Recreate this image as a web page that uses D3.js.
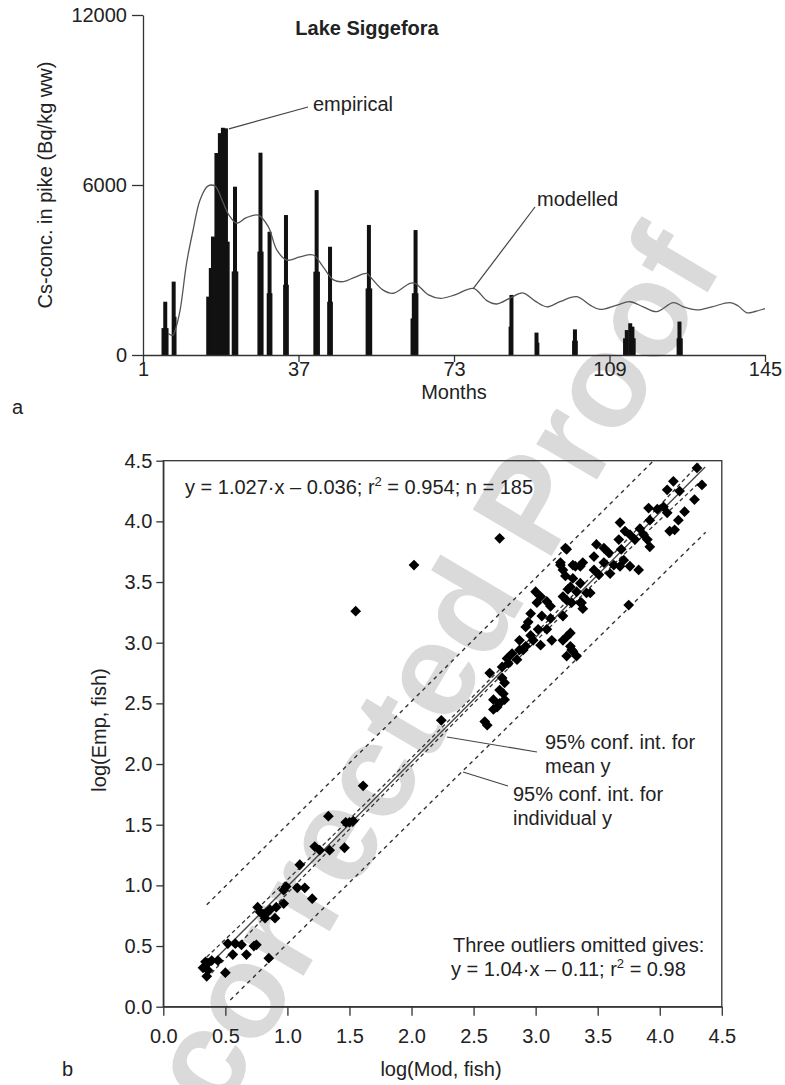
<!DOCTYPE html>
<html>
<head>
<meta charset="utf-8">
<script src="https://cdn.jsdelivr.net/npm/d3@7"></script>
<style>
body { margin: 0; background: #fff; }
svg { font-family: "Liberation Sans", Arial, Helvetica, sans-serif; }
.axis path, .axis line { stroke: #333; stroke-width: 1.3; }
.axis text { font-size: 20px; fill: #222; font-family: "Liberation Sans", Arial, sans-serif; }
</style>
</head>
<body>
<svg id="fig" width="785" height="1085"></svg>
<script>
// ---- panel a : Lake Siggefora, Cs in pike
// empirical samples (month, Bq/kg ww); several samples per sampling occasion
var empMonths = [6.15, 5.75, 6.45, 8.1, 8.3, 16.1, 16.7, 17.2, 18.0, 18.8, 19.5, 20.2, 20.6,
    22.3, 22.0, 22.6, 28.2, 27.95, 28.45, 30.3, 30.1, 30.5, 34.1, 33.9, 34.3, 41.2, 40.9, 41.5,
    44.3, 44.1, 44.5, 53.3, 53.0, 53.6, 64.1, 63.7, 64.3, 63.4, 86.3, 86.1, 92.1, 92.3,
    101.0, 100.8, 101.2, 112.6, 113.0, 113.8, 114.3, 114.6, 125.2, 125.0, 125.5];
var empValues = [1880, 950, 950, 2590, 1350, 2060, 3070, 4180, 7130, 7830, 8020, 8000, 4000,
    5940, 2950, 2950, 7140, 3650, 3650, 4350, 2180, 2180, 4940, 2480, 2480, 5820, 2940, 2940,
    3820, 1880, 1880, 4590, 2350, 2350, 4410, 2180, 2180, 1290, 2120, 1000, 790, 435,
    905, 505, 505, 590, 880, 1120, 1000, 590, 1180, 590, 590];
// modelled curve
var modMonths = [6.8, 7.9, 8.6, 9.6, 11.1, 12.6, 14.2, 16.0, 17.7, 19.3, 20.9, 22.7, 24.8, 27.7,
    30.0, 32.0, 34.3, 37.3, 40.4, 42.7, 45.1, 47.4, 50.1, 52.8, 53.9, 56.6, 58.9, 62.8, 64.0,
    67.1, 69.8, 73.2, 77.5, 80.6, 82.9, 86.2, 88.9, 91.8, 94.5, 97.5, 101.4, 104.5, 106.8,
    110.7, 113.7, 116.8, 119.9, 123.8, 126.1, 129.2, 132.7, 136.9, 138.8, 140.8, 142.7, 145];
var modValues = [760, 700, 950, 1590, 3250, 4410, 5470, 5960, 5960, 5470, 4940, 4650, 4840, 4940,
    4530, 3700, 3350, 3460, 3530, 3110, 2650, 2590, 2750, 2880, 2710, 2290, 2180, 2530, 2530,
    2120, 2000, 2120, 2350, 1920, 1800, 2030, 2190, 1900, 1700, 1880, 2060, 1760, 1610,
    1760, 1880, 1700, 1530, 1850, 1700, 1590, 1700, 1850, 1730, 1490, 1535, 1640];
var monthTicks = [1, 37, 73, 109, 145];
var concTicks = [0, 6000, 12000];

// ---- panel b : log(Mod) vs log(Emp)
var logMod = [1.61, 1.33, 1.47, 1.50, 1.53, 1.22, 1.26, 1.34, 1.46, 1.10, 0.99, 0.97, 1.08, 1.14,
    1.20, 0.97, 0.91, 0.76, 0.78, 0.81, 0.83, 0.86, 0.82, 0.90, 0.52, 0.58, 0.63, 0.56, 0.67,
    0.73, 0.75, 0.85, 0.34, 0.36, 0.39, 0.44, 0.32, 0.35, 0.50, 0.36,
    1.55, 2.02, 2.71, 2.24,
    2.59, 2.61, 2.66, 2.69, 2.71, 2.74, 2.75, 2.73, 2.63, 2.73, 2.78, 2.81, 2.77, 2.85, 2.87,
    2.92, 2.92, 2.94, 2.96, 3.00, 3.04, 3.01, 3.09, 3.12, 3.05, 3.12, 3.02, 3.09, 3.13, 3.04,
    2.98, 3.20, 3.24, 3.26, 3.29, 3.22, 3.33, 3.36, 3.38, 3.41, 3.30, 3.36, 3.47, 3.25, 3.29,
    3.33, 3.25, 3.75, 2.96, 2.87, 2.66, 2.71, 2.75, 2.90, 3.24, 3.28, 3.30, 3.22,
    4.30, 4.34, 4.28, 4.11, 4.06, 4.16, 4.20, 4.15, 4.08, 4.12, 3.91, 3.98, 4.03, 4.06, 3.92,
    3.84, 3.87, 3.90, 3.92, 3.68, 3.72, 3.76, 3.80, 3.67, 3.49, 3.55, 3.59, 3.69, 3.71, 3.25,
    3.47, 3.32, 3.38, 3.55, 3.63, 3.60, 3.68, 3.76, 3.83, 3.51, 3.20, 3.22, 3.30, 3.28, 3.36,
    3.44, 3.25, 3.37, 3.28, 3.22];
var logEmp = [1.82, 1.57, 1.52, 1.52, 1.53, 1.32, 1.29, 1.29, 1.31, 1.17, 0.99, 0.96, 0.98, 0.98,
    0.89, 0.85, 0.82, 0.82, 0.78, 0.76, 0.77, 0.80, 0.73, 0.73, 0.52, 0.52, 0.51, 0.43, 0.43,
    0.50, 0.51, 0.40, 0.37, 0.36, 0.38, 0.38, 0.32, 0.25, 0.28, 0.30,
    3.26, 3.64, 3.86, 2.36,
    2.35, 2.32, 2.45, 2.47, 2.50, 2.58, 2.53, 2.71, 2.75, 2.80, 2.83, 2.91, 2.87, 2.86, 2.94,
    2.97, 3.13, 3.17, 3.24, 3.42, 3.38, 3.33, 3.34, 3.30, 3.22, 3.20, 3.11, 3.11, 3.02, 2.98,
    3.02, 3.64, 3.55, 3.44, 3.33, 3.38, 3.42, 3.33, 3.28, 3.41, 3.64, 3.63, 3.60, 3.05, 2.94,
    2.89, 2.89, 3.31, 3.06, 3.02, 2.53, 2.61, 2.67, 2.94, 3.78, 2.97, 2.93, 3.02,
    4.44, 4.30, 4.18, 4.33, 4.26, 4.25, 4.08, 4.01, 3.92, 3.93, 4.11, 4.10, 4.12, 4.07, 4.01,
    3.94, 3.89, 3.85, 3.79, 3.99, 3.92, 3.89, 3.85, 3.85, 3.81, 3.78, 3.74, 3.77, 3.68, 3.77,
    3.71, 3.63, 3.66, 3.66, 3.64, 3.57, 3.63, 3.63, 3.60, 3.56, 3.66, 3.60, 3.53, 3.46, 3.49,
    3.41, 3.35, 3.33, 3.08, 3.22];
var logTicks = [0, 0.5, 1, 1.5, 2, 2.5, 3, 3.5, 4, 4.5];
// fitted line and confidence bands
var regX = [0.376, 4.366], regY = [0.35, 4.448];
var ciMeanX = [0.35, 1.2, 2.4, 3.6, 4.33];
var ciMeanUp = [0.41, 1.245, 2.46, 3.705, 4.49];
var ciMeanLo = [0.235, 1.147, 2.398, 3.617, 4.33];
var ciIndUpX = [0.35, 2.2, 3.95], ciIndUpY = [0.84, 2.72, 4.5];
var ciIndLoX = [0.54, 2.4, 4.37], ciIndLoY = [0.055, 1.93, 3.91];

var svg = d3.select("#fig");

//watermark
svg.append("text")
    .attr("transform", "translate(387,744)rotate(-59.4)")
    .attr("text-anchor", "middle")
    .attr("dominant-baseline", "central")
    .attr("font-size", 133)
    .attr("font-weight", "bold")
    .attr("fill", "#dadada")
    .text("Uncorrected Proof");

// ================= panel a
var xa = d3.scaleLinear().domain([1, 145]).range([143, 765]);
var ya = d3.scaleLinear().domain([0, 12000]).range([355, 15]);

var ga = svg.append("g");

ga.selectAll("rect.emp")
    .data(d3.range(empMonths.length))
    .enter().append("rect")
    .attr("class", "emp")
    .attr("x", function(i) { return xa(empMonths[i]) - 2; })
    .attr("width", 4)
    .attr("y", function(i) { return ya(empValues[i]); })
    .attr("height", function(i) { return ya(0) - ya(empValues[i]); })
    .attr("fill", "#111");

var modLine = d3.line()
    .x(function(i) { return xa(modMonths[i]); })
    .y(function(i) { return ya(modValues[i]); })
    .curve(d3.curveCatmullRom);
ga.append("path")
    .attr("d", modLine(d3.range(modMonths.length)))
    .attr("fill", "none")
    .attr("stroke", "#555")
    .attr("stroke-width", 1.3);

ga.append("g").attr("class", "axis")
    .attr("transform", "translate(0," + ya(0) + ")")
    .call(d3.axisBottom(xa).tickValues(monthTicks).tickSize(7).tickSizeOuter(0).tickPadding(0)
        .tickFormat(d3.format("d")));
ga.append("g").attr("class", "axis")
    .attr("transform", "translate(" + xa(1) + ",0)")
    .call(d3.axisLeft(ya).tickValues(concTicks).tickSize(11).tickSizeOuter(0).tickPadding(5)
        .tickFormat(d3.format("d")));

ga.append("text").attr("x", 367).attr("y", 35).attr("text-anchor", "middle")
    .attr("font-size", 20).attr("font-weight", "bold").attr("fill", "#222").text("Lake Siggefora");
ga.append("text").attr("transform", "translate(52,185)rotate(-90)").attr("text-anchor", "middle")
    .attr("font-size", 20).attr("fill", "#222").text("Cs-conc. in pike (Bq/kg ww)");
ga.append("text").attr("x", 454).attr("y", 399).attr("text-anchor", "middle")
    .attr("font-size", 20).attr("fill", "#222").text("Months");
ga.append("text").attr("x", 12).attr("y", 414)
    .attr("font-size", 20).attr("fill", "#222").text("a");

// labels with leader lines
ga.append("line").attr("x1", xa(20.9)).attr("y1", ya(7980)).attr("x2", 308).attr("y2", 107)
    .attr("stroke", "#444").attr("stroke-width", 1.2);
ga.append("text").attr("x", 313).attr("y", 111).attr("font-size", 20).attr("fill", "#222").text("empirical");
ga.append("line").attr("x1", xa(77.4)).attr("y1", ya(2330)).attr("x2", 535).attr("y2", 207)
    .attr("stroke", "#444").attr("stroke-width", 1.2);
ga.append("text").attr("x", 537).attr("y", 206).attr("font-size", 20).attr("fill", "#222").text("modelled");

// ================= panel b
var xb = d3.scaleLinear().domain([0, 4.5]).range([163.3, 721.8]);
var yb = d3.scaleLinear().domain([0, 4.5]).range([1006.7, 460.7]);

var gb = svg.append("g");

gb.append("clipPath").attr("id", "clipb").append("rect")
    .attr("x", xb(0)).attr("y", yb(4.5)).attr("width", xb(4.5) - xb(0)).attr("height", yb(0) - yb(4.5));

var lines = gb.append("g").attr("clip-path", "url(#clipb)");
var pairLine = function pairLine(xs, ys) {
    return d3.line().x(function(i) { return xb(xs[i]); }).y(function(i) { return yb(ys[i]); })
        .curve(d3.curveNatural)(d3.range(xs.length));
};
lines.append("path").attr("d", pairLine(regX, regY))
    .attr("stroke", "#444").attr("stroke-width", 1.3).attr("fill", "none");
[ciMeanUp, ciMeanLo].forEach(function(ys) {
    lines.append("path").attr("d", pairLine(ciMeanX, ys))
        .attr("stroke", "#333").attr("stroke-width", 1.3).attr("fill", "none")
        .attr("stroke-dasharray", "4,3");
});
lines.append("path").attr("d", pairLine(ciIndUpX, ciIndUpY))
    .attr("stroke", "#333").attr("stroke-width", 1.4).attr("fill", "none").attr("stroke-dasharray", "4,4");
lines.append("path").attr("d", pairLine(ciIndLoX, ciIndLoY))
    .attr("stroke", "#333").attr("stroke-width", 1.4).attr("fill", "none").attr("stroke-dasharray", "4,4");

var diamond = d3.symbol().type(d3.symbolSquare).size(58);
gb.selectAll("path.pt")
    .data(d3.range(logMod.length))
    .enter().append("path")
    .attr("class", "pt")
    .attr("d", diamond)
    .attr("transform", function(i) { return "translate(" + xb(logMod[i]) + "," + yb(logEmp[i]) + ")rotate(45)"; })
    .attr("fill", "#000");

// frame
gb.append("rect").attr("x", xb(0)).attr("y", yb(4.5))
    .attr("width", xb(4.5) - xb(0)).attr("height", yb(0) - yb(4.5))
    .attr("fill", "none").attr("stroke", "#333").attr("stroke-width", 1.3);

gb.append("g").attr("class", "axis")
    .attr("transform", "translate(0," + yb(0) + ")")
    .call(d3.axisBottom(xb).tickValues(logTicks).tickSize(9).tickSizeOuter(0).tickPadding(13)
        .tickFormat(d3.format(".1f")));
gb.append("g").attr("class", "axis")
    .attr("transform", "translate(" + xb(0) + ",0)")
    .call(d3.axisLeft(yb).tickValues(logTicks).tickSize(7).tickSizeOuter(0).tickPadding(4)
        .tickFormat(d3.format(".1f")));

gb.append("text").attr("x", 441).attr("y", 1076).attr("text-anchor", "middle")
    .attr("font-size", 20).attr("fill", "#222").text("log(Mod, fish)");
gb.append("text").attr("transform", "translate(106,730)rotate(-90)").attr("text-anchor", "middle")
    .attr("font-size", 20).attr("fill", "#222").text("log(Emp, fish)");
gb.append("text").attr("x", 62).attr("y", 1076)
    .attr("font-size", 20).attr("fill", "#222").text("b");

var eq = gb.append("text").attr("x", 185).attr("y", 494).attr("font-size", 20).attr("fill", "#222");
eq.append("tspan").text("y = 1.027\u00b7x \u2013 0.036; r");
eq.append("tspan").attr("dy", -8).attr("font-size", 13).text("2");
eq.append("tspan").attr("dy", 8).text(" = 0.954; n = 185");

gb.append("text").attr("x", 453).attr("y", 952).attr("font-size", 20).attr("fill", "#222")
    .text("Three outliers omitted gives:");
var eq2 = gb.append("text").attr("x", 451).attr("y", 976).attr("font-size", 20).attr("fill", "#222");
eq2.append("tspan").text("y = 1.04\u00b7x \u2013 0.11; r");
eq2.append("tspan").attr("dy", -8).attr("font-size", 13).text("2");
eq2.append("tspan").attr("dy", 8).text(" = 0.98");

gb.append("line").attr("x1", 447).attr("y1", 737).attr("x2", 537).attr("y2", 752)
    .attr("stroke", "#444").attr("stroke-width", 1.2);
gb.append("text").attr("x", 545).attr("y", 749).attr("font-size", 20).attr("fill", "#222").text("95% conf. int. for");
gb.append("text").attr("x", 545).attr("y", 773).attr("font-size", 20).attr("fill", "#222").text("mean y");
gb.append("line").attr("x1", 463).attr("y1", 772).attr("x2", 508).attr("y2", 786)
    .attr("stroke", "#444").attr("stroke-width", 1.2);
gb.append("text").attr("x", 513).attr("y", 801).attr("font-size", 20).attr("fill", "#222").text("95% conf. int. for");
gb.append("text").attr("x", 513).attr("y", 825).attr("font-size", 20).attr("fill", "#222").text("individual y");
</script>
</body>
</html>
